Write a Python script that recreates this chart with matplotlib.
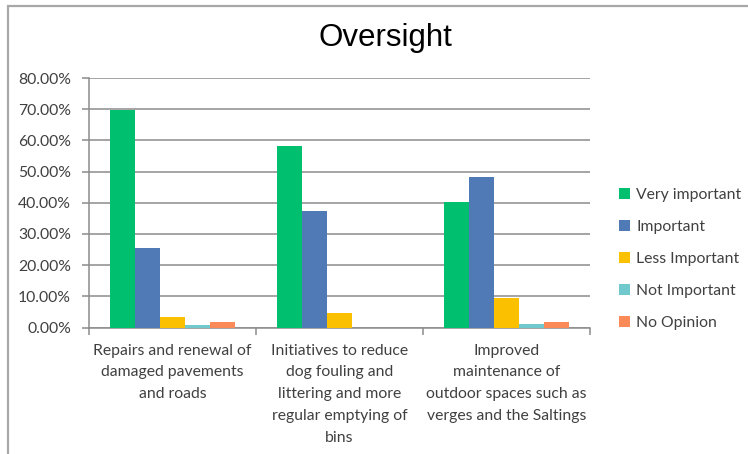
import numpy as np
import matplotlib
matplotlib.use('Agg')
import matplotlib.pyplot as plt
from matplotlib.patches import Rectangle
from matplotlib.ticker import PercentFormatter

categories = ['Repairs and renewal of\ndamaged pavements\nand roads',
              'Initiatives to reduce\ndog fouling and\nlittering and more\nregular emptying of\nbins',
              'Improved\nmaintenance of\noutdoor spaces such as\nverges and the Saltings']
series = ['Very important', 'Important', 'Less Important', 'Not Important', 'No Opinion']
very_important = [0.697, 0.582, 0.404]
important = [0.254, 0.374, 0.481]
less_important = [0.033, 0.048, 0.095]
not_important = [0.009, 0.0, 0.011]
no_opinion = [0.017, 0.0, 0.018]
colors = ['#00BF6F', '#4F7AB5', '#FBC000', '#70C9CC', '#FA8A57']

values = [very_important, important, less_important, not_important, no_opinion]

plt.rcParams['font.family'] = ['Lato', 'DejaVu Sans']
txt = '#404040'
fs = 11.3

fig = plt.figure(figsize=(7.48, 4.54), dpi=100)
fig.patch.set_facecolor('white')
# chart border (cut off at right and bottom, like the screenshot)
fig.add_artist(Rectangle((8 / 748, -0.5), 1.5, 1.5 - 6 / 454, transform=fig.transFigure,
                         fill=False, edgecolor='#a8a8a8', linewidth=1.6))

ax = fig.add_axes([89 / 748, 1 - 327.5 / 454, (590 - 89) / 748, (327.5 - 78) / 454])

x = np.arange(len(categories)) + 0.5
w = 0.15
for i, (name, vals) in enumerate(zip(series, values)):
    ax.bar(x + (i - 2) * w, vals, width=w, color=colors[i], label=name, zorder=3)

ax.set_xlim(0, 3)
ax.set_ylim(0, 0.8)
ax.set_yticks(np.arange(0, 0.81, 0.1))
ax.yaxis.set_major_formatter(PercentFormatter(1.0, decimals=2))
ax.grid(axis='y', color='#8c8c8c', linewidth=1.1, zorder=0)
for s in ['top', 'right']:
    ax.spines[s].set_visible(False)
for s in ['left', 'bottom']:
    ax.spines[s].set_color('#8c8c8c')
    ax.spines[s].set_linewidth(1.1)
ax.tick_params(axis='y', colors='#8c8c8c', labelcolor=txt, labelsize=fs, length=5, width=1.1, pad=8)
ax.set_xticks([0, 1, 2, 3])
ax.set_xticklabels([])
ax.tick_params(axis='x', colors='#8c8c8c', length=5, width=1.1)

for xi, lab in zip(x, categories):
    ax.text(xi, -0.065, lab, ha='center', va='top', fontsize=fs, color=txt,
            linespacing=1.7, transform=ax.get_xaxis_transform())

fig.text(385 / 748, 1 - 38 / 454, 'Oversight', ha='center', va='center', fontsize=22.5,
         family=['Liberation Sans', 'DejaVu Sans'], color='black')

ax.legend(loc='center left', bbox_to_anchor=(605 / 748, 1 - 259 / 454), bbox_transform=fig.transFigure,
          frameon=False, fontsize=fs, handlelength=0.7, handleheight=0.7, handletextpad=0.4,
          labelspacing=1.15, labelcolor=txt)

plt.savefig('out.png', dpi=100)
